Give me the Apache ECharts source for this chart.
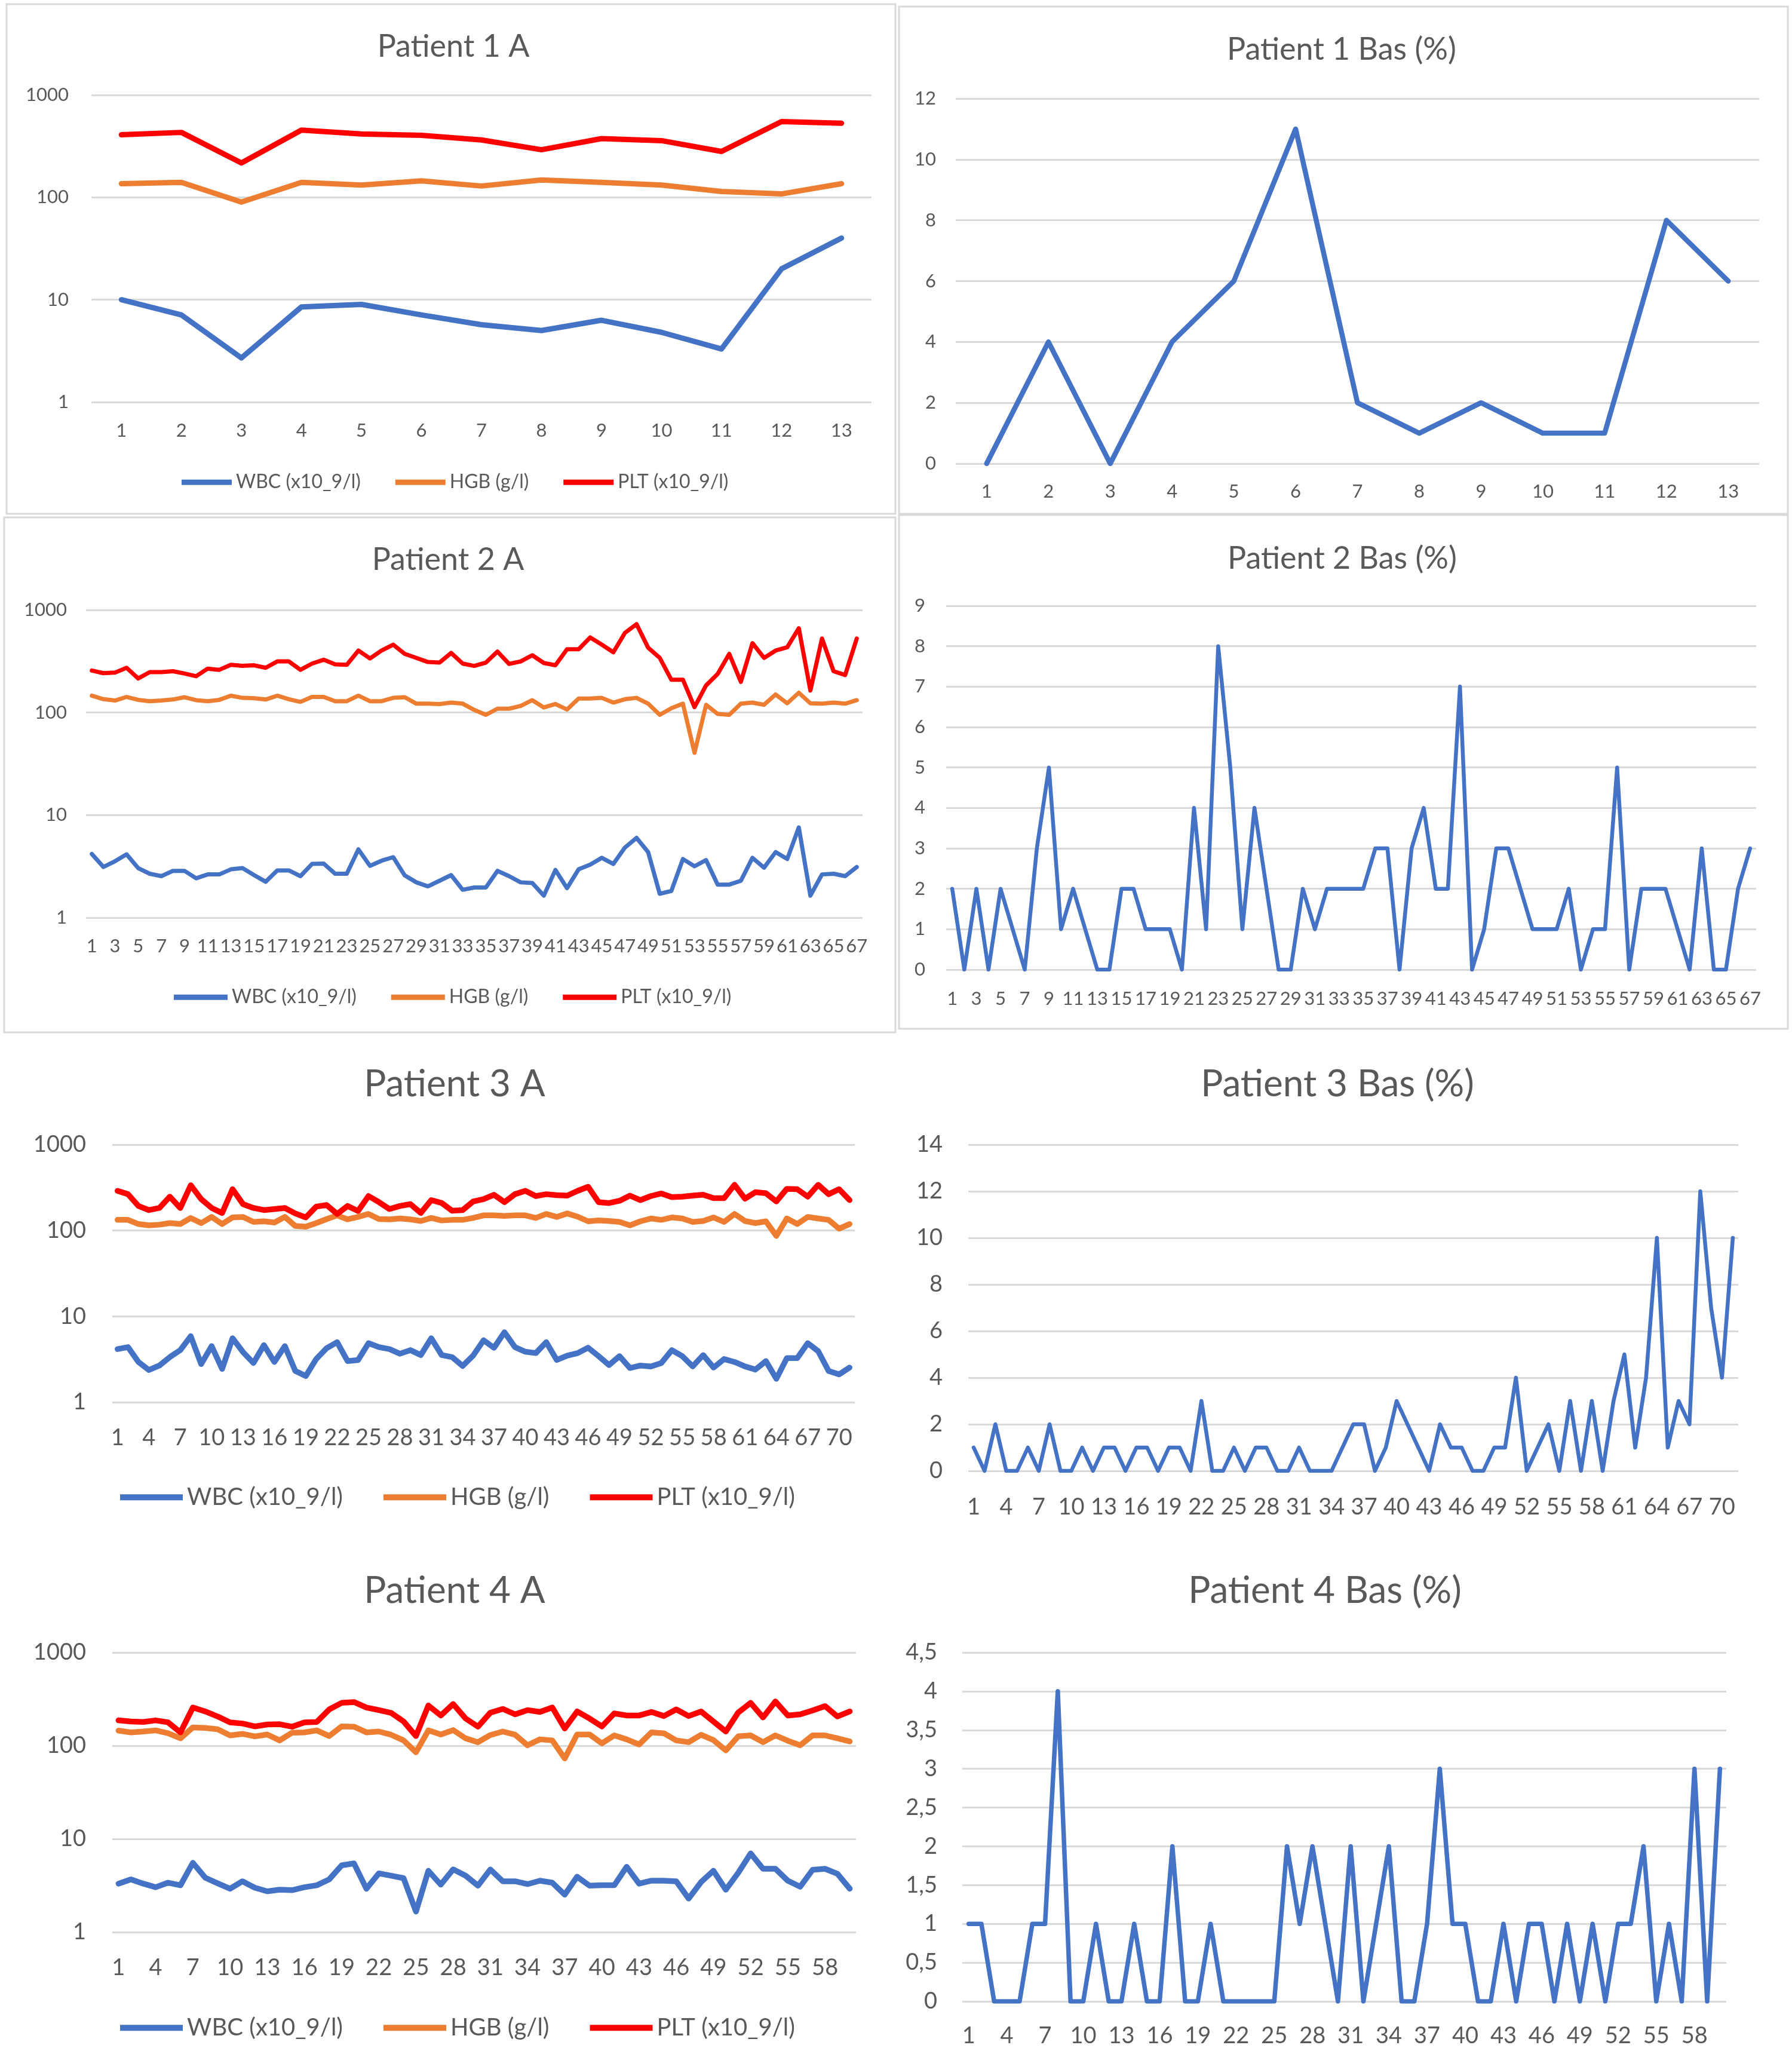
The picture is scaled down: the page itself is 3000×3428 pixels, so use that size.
<!DOCTYPE html>
<html>
<head>
<meta charset="utf-8">
<script src="https://cdn.jsdelivr.net/npm/echarts@6/dist/echarts.min.js"></script>
<style>
html,body{margin:0;padding:0;background:#fff;}
#c{width:3000px;height:3428px;}
</style>
</head>
<body>
<div id="c"></div>
<script>
// ---------------- DATA ----------------
const p1WBC = [10, 7.1, 2.7, 8.5, 9.0, 7.1, 5.7, 5.0, 6.3, 4.8, 3.3, 20, 40];
const p1HGB = [136, 140, 90, 140, 132, 145, 129, 148, 140, 132, 114, 108, 136];
const p1PLT = [409, 431, 217, 454, 416, 404, 364, 292, 375, 358, 281, 550, 530];
const p1Bas = [0, 4, 0, 4, 6, 11, 2, 1, 2, 1, 1, 8, 6];

const p2WBC = [4.18,3.12,3.55,4.14,3.04,2.68,2.54,2.86,2.86,2.42, 2.64,2.64,2.96,3.04,2.6,2.24,2.89,2.89,2.54,3.34,
  3.37,2.68,2.68,4.63,3.2,3.59,3.89,2.58,2.21,2.02, 2.29,2.6,1.87,1.97,1.97,2.86,2.54,2.21,2.18,1.64,
  2.92,1.94,2.96,3.29,3.83,3.34,4.83,5.99,4.36,1.71, 1.82,3.73,3.17,3.64,2.1,2.1,2.29,3.83,3.07,4.36,
  3.73,7.58,1.64,2.64,2.68,2.54,3.12];
const p2HGB = [146,135,131,142,133,129,131,134,141,132, 129,133,146,139,138,134,146,135,127,142,
  142,129,129,146,129,129,139,141,122,122, 121,125,122,106,95,109,109,116,132,112,
  121,107,137,137,139,125,135,139,122,95, 110,122,40.5,119,97,95,122,125,119,150,
  123,156,123,122,125,122,132];
const p2PLT = [257,242,245,273,215,248,248,253,240,226, 268,261,292,285,289,273,315,315,261,300,
  327,295,292,402,337,402,459,373,341,311, 307,381,300,285,307,393,298,315,362,304,
  289,414,414,540,459,387,599,727,429,341, 209,209,113,184,238,373,199,475,341,402,
  433,663,164,527,253,232,527];
const p2Bas = [2,0,2,0,2,1,0,3,5,1, 2,1,0,0,2,2,1,1,1,0, 4,1,8,5,1,4,2,0,0,2,
  1,2,2,2,2,3,3,0,3,4, 2,2,7,0,1,3,3,2,1,1, 1,2,0,1,1,5,0,2,2,2, 1,0,3,0,0,2,3];

const p3WBC = [4.15,4.38,2.94,2.37,2.67,3.35,4.04,5.87,2.78,4.5, 2.44,5.56,3.83,2.86,4.62,2.94,4.5,2.31,2.02,3.18,
  4.26,5.0,3.01,3.1,4.87,4.38,4.15,3.67,4.04,3.54, 5.56,3.54,3.35,2.64,3.48,5.27,4.3,6.53,4.38,3.87,
  3.73,5.0,3.1,3.48,3.73,4.31,3.44,2.71,3.44,2.5, 2.67,2.61,2.86,4.04,3.44,2.61,3.54,2.53,3.18,2.94,
  2.61,2.4,3.01,1.87,3.26,3.26,4.87,3.93,2.31,2.11, 2.53];
const p3HGB = [133,133,119,115,117,122,119,140,122,144, 119,142,144,126,128,124,144,113,111,122,
  136,150,135,144,156,136,135,138,135,129, 140,131,133,133,140,150,150,148,150,150,
  140,156,144,158,145,128,131,129,126,115, 128,138,133,142,138,126,129,142,126,156,
  129,122,128,86.6,138,119,144,138,133,105, 119];
const p3PLT = [290,265,193,173,183,248,183,337,232,183, 160,303,203,183,173,178,183,158,142,190,
  198,156,193,169,252,214,178,193,203,160, 226,209,170,173,218,232,261,214,265,290,
  252,265,258,255,290,323,214,209,222,255, 226,252,270,245,248,255,261,238,238,341,
  235,280,272,218,306,303,248,341,265,303, 226];
const p3Bas = [1,0,2,0,0,1,0,2,0,0, 1,0,1,1,0,1,1,0,1,1, 0,3,0,0,1,0,1,1,0,0,
  1,0,0,0,1,2,2,0,1,3, 2,1,0,2,1,1,0,0,1,1, 4,0,1,2,0,3,0,3,0,3, 5,1,4,10,1,3,2,12,7,4, 10];

const p4WBC = [3.31,3.68,3.31,3.03,3.39,3.18,5.54,3.83,3.34,2.92, 3.51,2.99,2.74,2.85,2.82,3.03,3.18,3.68,5.2,5.46,
  2.92,4.27,4.03,3.79,1.66,4.55,3.23,4.71,4.03,3.15, 4.7,3.51,3.51,3.27,3.56,3.39,2.52,3.93,3.15,3.18,
  3.18,5.02,3.31,3.56,3.56,3.51,2.29,3.44,4.55,2.85, 4.33,6.98,4.78,4.78,3.56,3.07,4.66,4.78,4.23,2.92];
const p4HGB = [145,139,142,146,136,120,157,155,150,129, 134,126,132,114,138,139,146,127,161,160,
  139,142,131,114,85,146,132,147,120,109, 130,142,131,101,117,114,73,132,132,106,
  129,117,103,139,136,114,109,131,115,89, 126,129,109,129,113,101,129,129,120,111];
const p4PLT = [187,182,180,187,178,139,257,233,206,178, 173,161,169,170,160,178,180,245,288,294,
  257,241,225,182,127,270,211,280,196,160, 226,248,217,241,230,257,153,233,196,161,
  222,211,211,230,208,245,208,233,182,142, 227,288,201,298,211,217,239,266,206,233];
const p4Bas = [1,1,0,0,0,1,1,4,0,0, 1,0,0,1,0,0,2,0,0,1, 0,0,0,0,0,2,1,2,1,0,
  2,0,1,2,0,0,1,3,1,1, 0,0,1,0,1,1,0,1,0,1, 0,1,1,2,0,1,0,3,0,3];

const seriesNames = ['WBC (x10_9/l)', 'HGB (g/l)', 'PLT (x10_9/l)'];
const basName = 'Bas (%)';
const titles = ['Patient 1 A', 'Patient 1 Bas (%)', 'Patient 2 A', 'Patient 2 Bas (%)',
                'Patient 3 A', 'Patient 3 Bas (%)', 'Patient 4 A', 'Patient 4 Bas (%)'];
const logTicks = [1, 10, 100, 1000];

// category labels 1..n (visit numbers)
function visits(n){ const a=[]; for(let i=1;i<=n;i++) a.push(String(i)); return a; }
const p1Cats = visits(p1Bas.length);
const p2Cats = visits(p2Bas.length);
const p3Cats = visits(p3Bas.length);
const p4Cats = visits(p4Bas.length);

// ---------------- STYLE ----------------
const BLUE='#4472C4', ORANGE='#ED7D31', RED='#FF0000', GRIDC='#D9D9D9', TXT='#595959';
const FONT='Lato, "Open Sans", sans-serif';

const option = {
  animation:false, backgroundColor:'#ffffff',
  title:[], grid:[], xAxis:[], yAxis:[], series:[], legend:[], graphic:[]
};

function addPanel(p){
  const gi = option.grid.length;
  option.grid.push({left:p.g[0], top:p.g[1], width:p.g[2], height:p.g[3], containLabel:false, outerBoundsMode:'none'});
  option.xAxis.push({
    type:'category', gridIndex:gi, data:p.cats, boundaryGap:true,
    axisLine:{show:false}, axisTick:{show:false}, splitLine:{show:false},
    axisLabel:{interval:p.li, margin:p.xm, color:TXT, fontSize:p.fs, fontFamily:FONT, hideOverlap:false}
  });
  const yl = {margin:p.ym, color:TXT, fontSize:p.fs, fontFamily:FONT};
  const ysplit = {show:true, lineStyle:{color:GRIDC, width:p.gw}};
  if (p.log){
    option.yAxis.push({type:'log', logBase:10, gridIndex:gi, min:logTicks[0], max:logTicks[logTicks.length-1],
      axisLine:{show:false}, axisTick:{show:false}, splitLine:ysplit,
      axisLabel:Object.assign({formatter:v=>String(Math.round(v))}, yl)});
  } else {
    option.yAxis.push({type:'value', gridIndex:gi, min:0, max:p.max, interval:p.step,
      axisLine:{show:false}, axisTick:{show:false}, splitLine:ysplit,
      axisLabel:Object.assign({formatter:v=>String(+v.toFixed(2)).replace('.', ',')}, yl)});
  }
  p.series.forEach(s=>{
    option.series.push({type:'line', name:s.name, xAxisIndex:gi, yAxisIndex:gi, data:s.data,
      symbol:'none', showSymbol:false, smooth:false,
      lineStyle:{color:s.color, width:p.lw, cap:'round', join:'round'}, itemStyle:{color:s.color}});
  });
  option.title.push({text:p.title, left:p.t[0], top:p.t[1]+7-p.tfs*0.62, textAlign:'center', padding:0,
    textStyle:{fontSize:p.tfs, fontWeight:'normal', color:TXT, fontFamily:FONT}});
  if (p.leg){
    option.legend.push({data:seriesNames, left:p.leg[0], top:p.leg[1]+6-p.lfs*0.62, orient:'horizontal',
      padding:0, itemWidth:p.leg[2], itemHeight:p.leg[4], itemGap:p.leg[3], icon:'rect',
      textStyle:{fontSize:p.lfs, color:TXT, fontFamily:FONT, padding:[0,0,0,2]}});
  }
  if (p.box){
    option.graphic.push({type:'rect', silent:true, shape:{x:p.box[0], y:p.box[1], width:p.box[2], height:p.box[3]},
      style:{fill:'none', stroke:GRIDC, lineWidth:3}});
  }
}

const tri = (w,h,p)=>[{name:seriesNames[0], data:w, color:BLUE},{name:seriesNames[1], data:h, color:ORANGE},{name:seriesNames[2], data:p, color:RED}];

addPanel({title:titles[0], t:[759,77], tfs:52, g:[153,159,1306,514], cats:p1Cats, li:0, xm:32, ym:38, fs:31, gw:3,
  log:true, lw:9, series:tri(p1WBC,p1HGB,p1PLT), leg:[304,805,84,58,9], lfs:32, box:[11,7,1488,853]});
addPanel({title:titles[1], t:[2246,82], tfs:52, g:[1600,165,1345,611], cats:p1Cats, li:0, xm:31, ym:33, fs:31, gw:3,
  log:false, max:12, step:2, lw:8.5, series:[{name:basName, data:p1Bas, color:BLUE}], box:[1505,11,1488,849]});
addPanel({title:titles[2], t:[750,936], tfs:52, g:[144,1021,1300,515], cats:p2Cats, li:1, xm:32, ym:32, fs:31, gw:3,
  log:true, lw:7, series:tri(p2WBC,p2HGB,p2PLT), leg:[291,1667,90,58,9], lfs:32, box:[7,866,1492,862]});
addPanel({title:titles[3], t:[2247,934], tfs:52, g:[1584,1014,1356,609], cats:p2Cats, li:1, xm:33, ym:35, fs:31, gw:3,
  log:false, max:9, step:1, lw:6.5, series:[{name:basName, data:p2Bas, color:BLUE}], box:[1505,862,1488,860]});
addPanel({title:titles[4], t:[761,1815], tfs:62, g:[188,1916,1243,431], cats:p3Cats, li:2, xm:41, ym:44, fs:38, gw:3,
  log:true, lw:9.5, series:tri(p3WBC,p3HGB,p3PLT), leg:[201,2505,105,68,10], lfs:40});
addPanel({title:titles[5], t:[2239,1815], tfs:62, g:[1621,1916,1289,546], cats:p3Cats, li:2, xm:42, ym:43, fs:38, gw:3,
  log:false, max:14, step:2, lw:6.5, series:[{name:basName, data:p3Bas, color:BLUE}]});
addPanel({title:titles[6], t:[761,2663], tfs:62, g:[188,2766,1245,468], cats:p4Cats, li:2, xm:41, ym:44, fs:38, gw:3,
  log:true, lw:9.5, series:tri(p4WBC,p4HGB,p4PLT), leg:[201,3393,105,68,10], lfs:40});
addPanel({title:titles[7], t:[2218,2663], tfs:62, g:[1611,2766,1279,584], cats:p4Cats, li:2, xm:39, ym:42, fs:38, gw:3,
  log:false, max:4.5, step:0.5, lw:7.5, series:[{name:basName, data:p4Bas, color:BLUE}]});

const chart = echarts.init(document.getElementById('c'), null, {renderer:'canvas'});
chart.setOption(option);
</script>
</body>
</html>
